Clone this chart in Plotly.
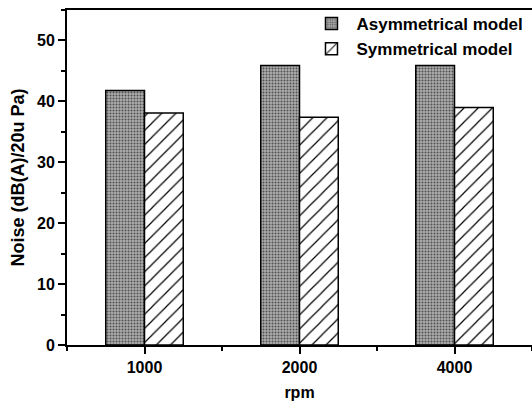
import plotly.graph_objects as go

categories = ["1000", "2000", "4000"]
x_pos = [1, 2, 3]
asym_values = [41.8, 45.9, 45.9]
sym_values = [38.1, 37.4, 39.0]
y_ticks = [0, 10, 20, 30, 40, 50]

FONT = "Liberation Sans, Arial, sans-serif"

fig = go.Figure()
fig.add_trace(go.Bar(
    x=x_pos, y=asym_values, name="Asymmetrical model",
    marker=dict(
        color="#8a8a8a",
        line=dict(color="black", width=1.5),
        pattern=dict(shape=".", fgcolor="#505050", bgcolor="#acacac",
                     size=3, solidity=0.35, fillmode="replace"),
    ),
))
fig.add_trace(go.Bar(
    x=x_pos, y=sym_values, name="Symmetrical model",
    marker=dict(
        color="white",
        line=dict(color="black", width=1.5),
        pattern=dict(shape="/", fgcolor="black", bgcolor="white",
                     size=10, solidity=0.12, fillmode="replace"),
    ),
))

fig.update_layout(
    width=532, height=401,
    margin=dict(l=67, r=0, t=10, b=56),
    paper_bgcolor="white", plot_bgcolor="white",
    barmode="group", bargap=0.5, bargroupgap=0,
    font=dict(family=FONT, color="black"),
    showlegend=True,
    legend=dict(
        x=0.515, y=1.012, xanchor="left", yanchor="top",
        bgcolor="rgba(0,0,0,0)",
        font=dict(size=17, family=FONT, weight="bold"),
        tracegroupgap=0, itemwidth=40,
    ),
    xaxis=dict(
        range=[0.5, 3.5], tickvals=x_pos, ticktext=categories,
        showline=True, linecolor="black", linewidth=2, mirror=True,
        ticks="outside", ticklen=7, tickwidth=1.5, tickcolor="black",
        minor=dict(dtick=0.5, tick0=0.5, ticks="outside", ticklen=4, tickwidth=1.5, tickcolor="black"),
        showgrid=False, zeroline=False,
        tickfont=dict(size=16, family=FONT, weight="bold"),
        title=dict(text="rpm", font=dict(size=16, family=FONT, weight="bold"), standoff=14),
    ),
    yaxis=dict(
        range=[0, 55], tickvals=y_ticks,
        showline=True, linecolor="black", linewidth=2,
        ticks="outside", ticklen=7, tickwidth=1.5, tickcolor="black",
        minor=dict(dtick=5, tick0=0, ticks="outside", ticklen=4, tickwidth=1.5, tickcolor="black"),
        showgrid=False, zeroline=False,
        tickfont=dict(size=16, family=FONT, weight="bold"),
        title=dict(text="Noise (dB(A)/20u Pa)", font=dict(size=18, family=FONT, weight="bold"), standoff=8),
    ),
)

fig.write_html("out.html")
